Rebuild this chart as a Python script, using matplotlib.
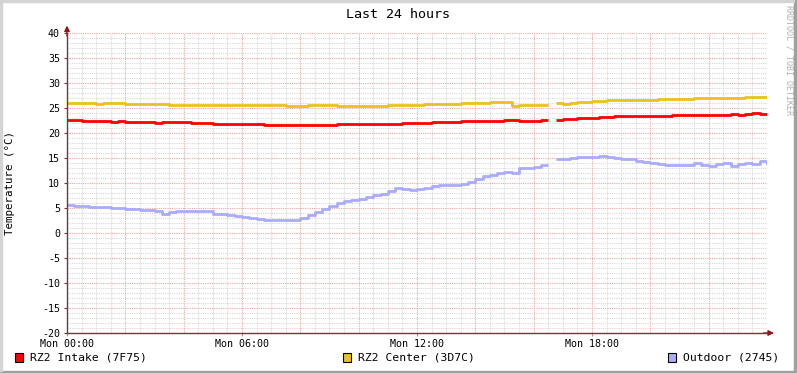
import numpy as np
import matplotlib
matplotlib.use('Agg')
import matplotlib.pyplot as plt
from matplotlib.patches import Rectangle
from matplotlib.ticker import MultipleLocator

# samples every 15 minutes, hours since Mon 00:00 (nan = missing sample)
step_h = 0.25
intake = [22.6, 22.7, 22.5, 22.5, 22.5, 22.5, 22.3, 22.4, 22.2, 22.2,
          22.2, 22.2, 22.1, 22.2, 22.3, 22.3, 22.3, 22.1, 22.1, 22.1,
          21.9, 21.9, 21.9, 21.9, 21.8, 21.8, 21.8, 21.7, 21.7, 21.7,
          21.7, 21.7, 21.7, 21.7, 21.7, 21.7, 21.7, 21.9, 21.9, 21.9,
          21.9, 21.8, 21.9, 21.8, 21.9, 21.9, 22.0, 22.0, 22.1, 22.1,
          22.2, 22.3, 22.3, 22.3, 22.5, 22.5, 22.4, 22.5, 22.5, 22.5,
          22.7, 22.7, 22.4, 22.5, 22.5, 22.6, np.nan, 22.7, 22.9, 22.9,
          23.0, 23.1, 23.1, 23.3, 23.3, 23.4, 23.5, 23.5, 23.5, 23.5,
          23.5, 23.5, 23.5, 23.7, 23.7, 23.7, 23.7, 23.7, 23.7, 23.7,
          23.7, 23.8, 23.7, 23.8, 24.0, 23.9, 24.0]
center = [26.1, 26.1, 26.1, 26.1, 25.9, 26.0, 26.1, 26.0, 25.9, 25.9,
          25.9, 25.9, 25.9, 25.8, 25.7, 25.7, 25.7, 25.7, 25.7, 25.7,
          25.7, 25.6, 25.7, 25.6, 25.6, 25.7, 25.6, 25.6, 25.6, 25.6,
          25.5, 25.4, 25.5, 25.6, 25.6, 25.6, 25.6, 25.4, 25.4, 25.4,
          25.4, 25.4, 25.5, 25.5, 25.7, 25.7, 25.7, 25.7, 25.7, 25.8,
          25.9, 25.9, 25.9, 25.9, 26.0, 26.0, 26.0, 26.0, 26.2, 26.2,
          26.3, 25.4, 25.6, 25.7, 25.6, 25.6, np.nan, 26.0, 25.8, 26.1,
          26.2, 26.3, 26.5, 26.5, 26.6, 26.7, 26.7, 26.7, 26.7, 26.7,
          26.7, 26.8, 26.8, 26.8, 26.8, 26.8, 27.0, 27.0, 27.0, 27.0,
          27.0, 27.0, 27.1, 27.3, 27.3, 27.3, 27.3]
outdoor = [5.6, 5.5, 5.4, 5.2, 5.2, 5.3, 5.1, 5.0, 4.9, 4.8,
           4.7, 4.6, 4.4, 3.9, 4.3, 4.5, 4.5, 4.5, 4.5, 4.4,
           3.9, 3.8, 3.6, 3.4, 3.3, 3.1, 2.9, 2.7, 2.6, 2.7,
           2.7, 2.7, 3.0, 3.6, 4.3, 4.9, 5.4, 6.1, 6.5, 6.6,
           6.9, 7.3, 7.6, 7.9, 8.4, 9.0, 8.9, 8.7, 8.8, 9.0,
           9.5, 9.7, 9.7, 9.6, 9.8, 10.3, 10.9, 11.4, 11.7, 12.0,
           12.3, 12.1, 13.1, 13.1, 13.2, 13.6, np.nan, 14.8, 14.9, 15.1,
           15.2, 15.3, 15.3, 15.5, 15.2, 15.1, 14.9, 14.8, 14.5, 14.2,
           14.0, 13.9, 13.7, 13.6, 13.6, 13.6, 14.0, 13.6, 13.5, 13.9,
           14.1, 13.5, 13.8, 14.1, 13.9, 14.4, 13.7]

series_names = ['RZ2 Intake (7F75)', 'RZ2 Center (3D7C)', 'Outdoor (2745)']
series_colors = ['#ff0000', '#eac11e', '#aaaaff']
xtick_labels = ['Mon 00:00', 'Mon 06:00', 'Mon 12:00', 'Mon 18:00']

mono = 'DejaVu Sans Mono'


def step_path(vals, dt):
    # each sample holds its value for one step; nan breaks the line
    xs, ys = [], []
    for i, v in enumerate(vals):
        t0 = i * dt
        t1 = min(t0 + dt, 24.0)
        if np.isnan(v):
            xs.append(np.nan)
            ys.append(np.nan)
            continue
        xs += [t0, t1]
        ys += [v, v]
    return xs, ys


fig = plt.figure(figsize=(7.97, 3.73), dpi=100, facecolor='white')
W, H = 797.0, 373.0

# 3d-ish frame like rrdtool
fig.patches.append(Rectangle((0, 0), 1, 2 / H, transform=fig.transFigure, color='#a0a0a0', zorder=0))
fig.patches.append(Rectangle((1 - 3 / W, 0), 3 / W, 1, transform=fig.transFigure, color='#a0a0a0', zorder=0))
fig.patches.append(Rectangle((0, 1 - 2 / H), 1 - 3 / W, 2 / H, transform=fig.transFigure, color='#d4d4d4', zorder=0))
fig.patches.append(Rectangle((0, 2 / H), 2 / W, 1, transform=fig.transFigure, color='#d4d4d4', zorder=0))

ax = fig.add_axes([67 / W, 1 - 333 / H, 700 / W, 300 / H])
ax.set_facecolor('white')
ax.set_xlim(0, 24)
ax.set_ylim(-20, 40)

ax.xaxis.set_major_locator(MultipleLocator(6))
ax.xaxis.set_minor_locator(MultipleLocator(0.5))
ax.yaxis.set_major_locator(MultipleLocator(5))
ax.yaxis.set_minor_locator(MultipleLocator(1))

# minor grid (grey), major grid (red) every 2h / 5 deg
for t in np.arange(0.5, 24.01, 0.5):
    if abs(t / 2 - round(t / 2)) > 1e-6:
        ax.axvline(t, color='#d8d8d8', lw=0.8, ls=(0, (1, 1)), zorder=1)
for v in range(-19, 41):
    if v % 5 != 0:
        ax.axhline(v, color='#d8d8d8', lw=0.8, ls=(0, (1, 1)), zorder=1)
for t in np.arange(2, 24.01, 2):
    ax.axvline(t, color='#e8a8a8', lw=0.8, ls=(0, (1, 1)), zorder=1.5)
for v in range(-15, 41, 5):
    ax.axhline(v, color='#e8a8a8', lw=0.8, ls=(0, (1, 1)), zorder=1.5)

for vals, col in zip([intake, center, outdoor], series_colors):
    xs, ys = step_path(vals, step_h)
    ax.plot(xs, ys, color=col, lw=2, zorder=3, solid_capstyle='butt')

for s in ['top', 'right', 'left', 'bottom']:
    ax.spines[s].set_visible(False)
axis_col = '#6b3a3a'
ax.plot([0, 0], [0, 1.0], transform=ax.transAxes, color=axis_col, lw=1, clip_on=False, zorder=4)
ax.plot([0, 1.0], [0, 0], transform=ax.transAxes, color=axis_col, lw=1, clip_on=False, zorder=4)
ax.annotate('', xy=(0, 1.025), xytext=(0, 0.99), xycoords='axes fraction',
            arrowprops=dict(arrowstyle='-|>', color='#901818', lw=1, mutation_scale=8,
                            shrinkA=0, shrinkB=0), annotation_clip=False)
ax.annotate('', xy=(1.01, 0), xytext=(0.995, 0), xycoords='axes fraction',
            arrowprops=dict(arrowstyle='-|>', color='#901818', lw=1, mutation_scale=8,
                            shrinkA=0, shrinkB=0), annotation_clip=False)

ax.set_xticks([0, 6, 12, 18])
ax.set_xticklabels(xtick_labels, fontfamily=mono, fontsize=7.2)
ax.set_yticks(range(-20, 41, 5))
ax.set_yticklabels([str(v) for v in range(-20, 41, 5)], fontfamily=mono, fontsize=7.2)
ax.tick_params(axis='x', which='major', length=2, color='#e08080', pad=2)
ax.tick_params(axis='x', which='minor', length=0)
ax.tick_params(axis='y', which='major', length=2, color='#6b3a3a', pad=3)
ax.tick_params(axis='y', which='minor', length=0)

fig.text(398 / W, 1 - 14 / H, 'Last 24 hours', ha='center', va='center',
         fontfamily=mono, fontsize=9.6)
fig.text(10 / W, 1 - 183 / H, 'Temperature (°C)', ha='center', va='center',
         rotation=90, fontfamily=mono, fontsize=7.8)
fig.text(789 / W, 1 - 5 / H, 'RRDTOOL / TOBI OETIKER', ha='center', va='top',
         rotation=-90, fontfamily=mono, fontsize=6, color='#b0b0b0')

# legend row
legend_x = [15, 343, 668]
for lx, name, col in zip(legend_x, series_names, series_colors):
    fig.patches.append(Rectangle((lx / W, 1 - 362 / H), 8 / W, 9 / H, transform=fig.transFigure,
                                 facecolor=col, edgecolor='black', lw=0.8, zorder=5))
    fig.text((lx + 15) / W, 1 - 358 / H, name, ha='left', va='center',
             fontfamily=mono, fontsize=8.2)

fig.savefig('out.png', dpi=100, facecolor=fig.get_facecolor())
